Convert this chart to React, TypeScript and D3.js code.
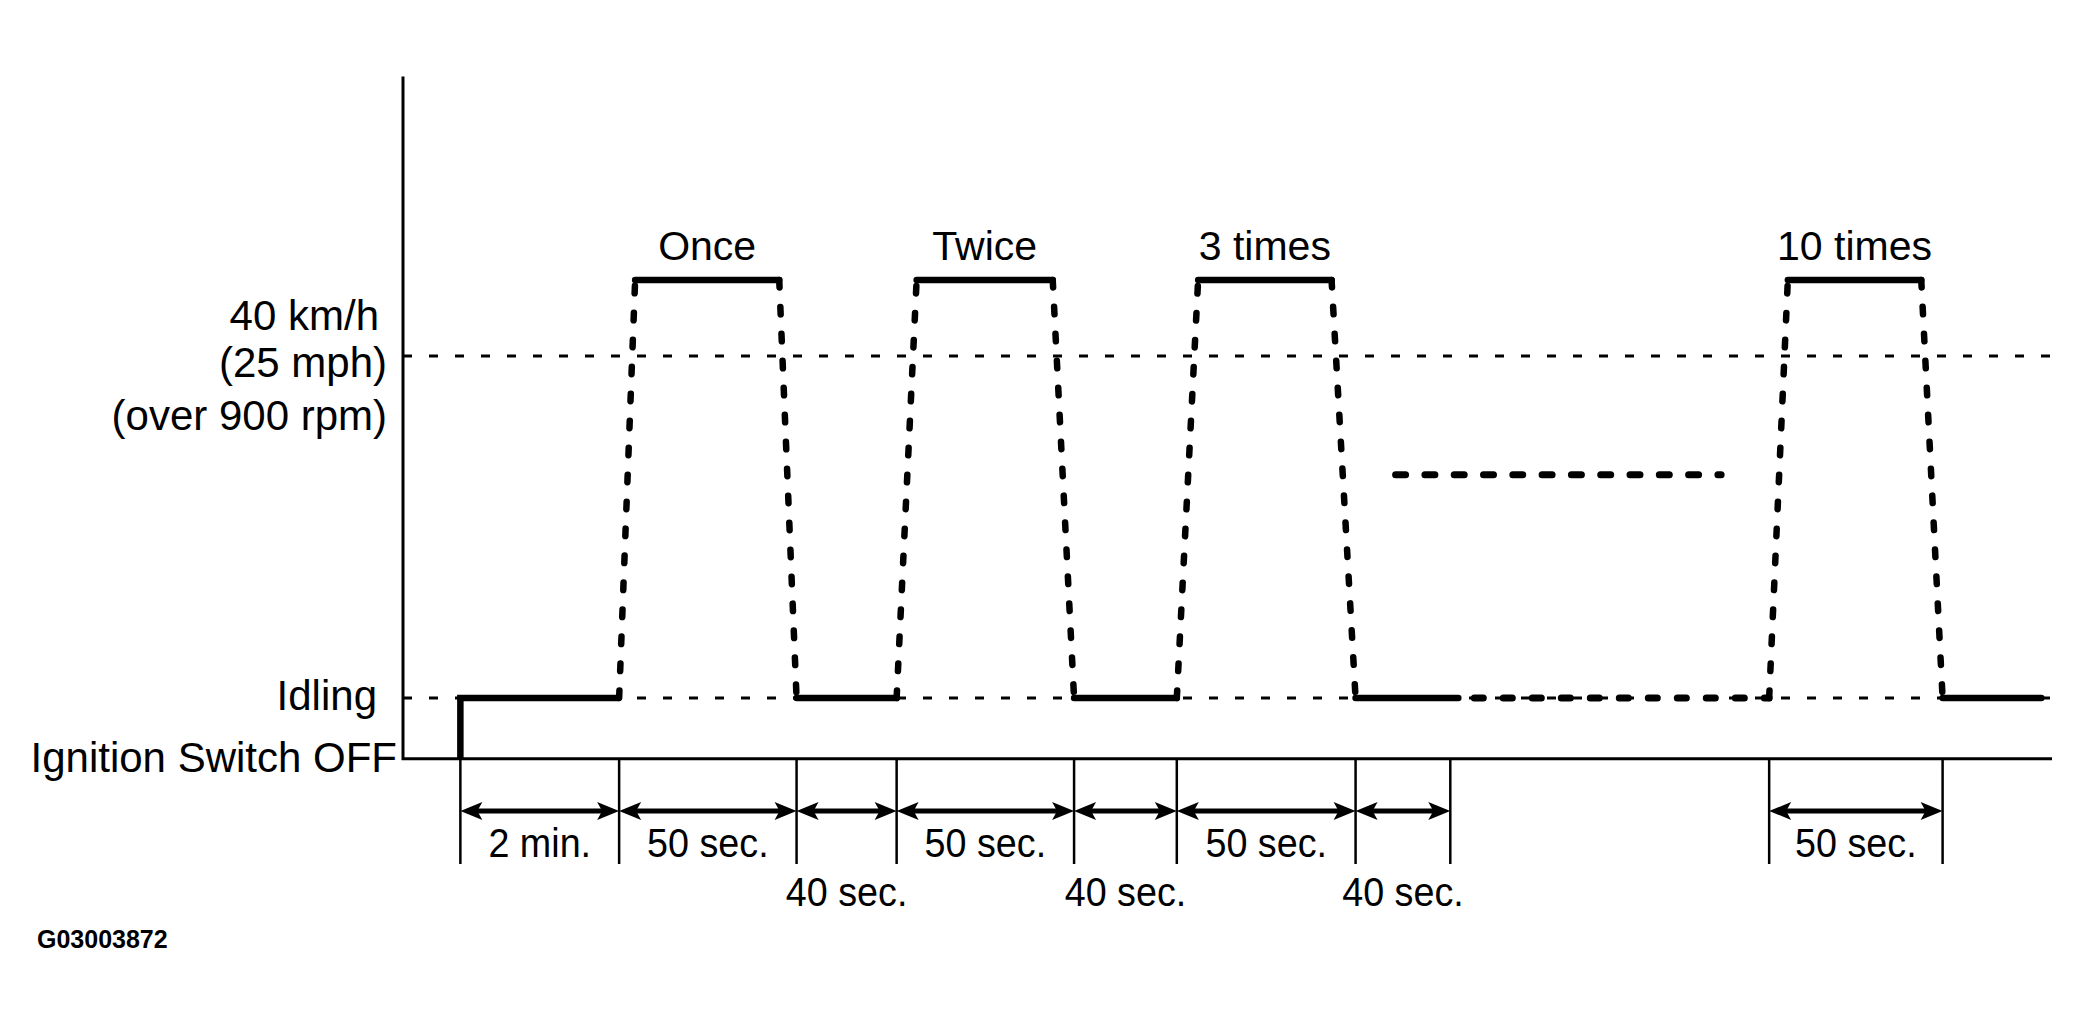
import React from "react";
import * as d3 from "d3";

const WIDTH = 2092;
const HEIGHT = 1024;

// Schematic timeline (layout units along the time axis; 0 = vertical axis)
const ignitionAt = 43;
const segmentLabels = ["2 min.", "50 sec.", "40 sec.", "50 sec.", "40 sec.", "50 sec.", "40 sec.", "", "50 sec."];
const segmentSpans = [119, 133, 75, 133, 77, 134, 71, 239, 130];
const segmentRows = [0, 0, 1, 0, 1, 0, 1, -1, 0];
const pulseLabels = ["Once", "Twice", "3 times", "10 times"];
const pulseSegments = [1, 3, 5, 8];
const pulseRise = [12, 15, 16, 14];
const pulseFall = [13, 16, 18, 16];
const idleSegments = [0, 2, 4, 6];
const idleOverrun = 6;
const finalIdleSpan = 74;
const axisEnd = 1236;
const refLineEnd = 1238;
const repeatDots = [744, 988];

// Speed levels (schematic, km/h)
const levelOff = -7.1;
const levelIdle = 0;
const levelTarget = 40;
const levelPeak = 48.9;
const levelRepeat = 26.1;
const levelAxisTop = 72.7;

const speedLabelLines = ["40 km/h", "(25 mph)", "(over 900 rpm)"];
const idleLabel = "Idling";
const offLabel = "Ignition Switch OFF";
const figureId = "G03003872";

const FONT = "'Liberation Sans', Arial, Helvetica, sans-serif";

export default function App() {
  const x = d3.scaleLinear().domain([0, axisEnd]).range([403, 2052]);
  const y = d3.scaleLinear().domain([0, 40]).range([698, 356]);

  const bounds: number[] = [ignitionAt];
  segmentSpans.forEach((s, i) => bounds.push(bounds[i] + s));

  const line = d3
    .line<[number, number]>()
    .x((d) => x(d[0]))
    .y((d) => y(d[1]));

  const yOff = y(levelOff);
  const dimY = 811;
  const tickBottom = 864;
  const rowBaselines = [857, 906];

  const idlePaths: [number, number][][] = idleSegments.map((s, i) => {
    const a = bounds[s];
    let b = bounds[s + 1];
    if (s === 6) b += idleOverrun;
    if (i === 0)
      return [
        [a, levelOff],
        [a, levelIdle],
        [b, levelIdle],
      ];
    return [
      [a, levelIdle],
      [b, levelIdle],
    ];
  });
  idlePaths.push([
    [bounds[9], levelIdle],
    [bounds[9] + finalIdleSpan, levelIdle],
  ]);

  const dottedIdle: [number, number][] = [
    [bounds[7] + idleOverrun, levelIdle],
    [bounds[8], levelIdle],
  ];

  const arrowHead = (tipX: number, dir: number) => {
    const L = 22;
    const h = 9;
    const n = 5;
    return `M${tipX},${dimY} L${tipX + dir * L},${dimY - h} L${tipX + dir * (L - n)},${dimY} L${tipX + dir * L},${dimY + h} Z`;
  };

  return (
    <svg
      width={WIDTH}
      height={HEIGHT}
      style={{ position: "absolute", left: 0, top: 0, background: "#fff" }}
      fontFamily={FONT}
    >
      <rect x={0} y={0} width={WIDTH} height={HEIGHT} fill="#fff" />

      {[levelTarget, levelIdle].map((lv, i) => (
        <line
          key={"ref" + i}
          x1={x(0)}
          x2={x(refLineEnd)}
          y1={y(lv)}
          y2={y(lv)}
          stroke="#000"
          strokeWidth={2.8}
          strokeDasharray="9,17"
        />
      ))}

      <path
        d={`M${x(0)},${y(levelAxisTop)} L${x(0)},${yOff} L${x(axisEnd)},${yOff}`}
        fill="none"
        stroke="#000"
        strokeWidth={3}
      />

      {idlePaths.map((p, i) => (
        <path
          key={"idle" + i}
          d={line(p) || ""}
          fill="none"
          stroke="#000"
          strokeWidth={6.5}
          strokeLinecap={i === 0 ? "butt" : "round"}
          strokeLinejoin="miter"
        />
      ))}

      <path
        d={line(dottedIdle) || ""}
        fill="none"
        stroke="#000"
        strokeWidth={7}
        strokeLinecap="round"
        strokeDasharray="9,20"
        strokeDashoffset={-16}
      />
      <path
        d={
          line([
            [repeatDots[0], levelRepeat],
            [repeatDots[1], levelRepeat],
          ]) || ""
        }
        fill="none"
        stroke="#000"
        strokeWidth={7}
        strokeLinecap="round"
        strokeDasharray="10,19.3"
      />

      {pulseSegments.map((s, i) => {
        const a = bounds[s];
        const b = bounds[s + 1];
        const ta = a + pulseRise[i];
        const tb = b - pulseFall[i];
        const rise = line([
          [a, levelIdle],
          [ta, levelPeak],
        ]);
        const fall = line([
          [tb, levelPeak],
          [b, levelIdle],
        ]);
        const top = line([
          [ta, levelPeak],
          [tb, levelPeak],
        ]);
        return (
          <g key={"pulse" + i}>
            <path d={rise || ""} fill="none" stroke="#000" strokeWidth={6.5} strokeLinecap="round" strokeDasharray="7.5,19.5" />
            <path d={fall || ""} fill="none" stroke="#000" strokeWidth={6.5} strokeLinecap="round" strokeDasharray="7.5,19.5" />
            <path d={top || ""} fill="none" stroke="#000" strokeWidth={6.5} strokeLinecap="round" />
            <text
              x={(x(ta) + x(tb)) / 2}
              y={260}
              textAnchor="middle"
              fontSize={41}
              fill="#000"
            >
              {pulseLabels[i]}
            </text>
          </g>
        );
      })}

      {bounds.map((b, i) => (
        <line
          key={"tick" + i}
          x1={x(b)}
          x2={x(b)}
          y1={yOff}
          y2={tickBottom}
          stroke="#000"
          strokeWidth={2.5}
        />
      ))}

      {segmentSpans.map((_, s) => {
        if (segmentRows[s] < 0) return null;
        const a = x(bounds[s]);
        const b = x(bounds[s + 1]);
        const cx = (a + b) / 2;
        return (
          <g key={"dim" + s}>
            <line x1={a + 10} x2={b - 10} y1={dimY} y2={dimY} stroke="#000" strokeWidth={5} />
            <path d={arrowHead(a, 1)} fill="#000" />
            <path d={arrowHead(b, -1)} fill="#000" />
            <text
              transform={`translate(${cx},${rowBaselines[segmentRows[s]]}) scale(0.92,1)`}
              textAnchor="middle"
              fontSize={41}
              fill="#000"
            >
              {segmentLabels[s]}
            </text>
          </g>
        );
      })}

      {speedLabelLines.map((t, i) => (
        <text
          key={"sl" + i}
          x={i === 0 ? 379 : 387}
          y={[330, 377, 430][i]}
          textAnchor="end"
          fontSize={42}
          fill="#000"
        >
          {t}
        </text>
      ))}
      <text x={377} y={y(levelIdle) + 12} textAnchor="end" fontSize={42} fill="#000">
        {idleLabel}
      </text>
      <text x={397} y={yOff + 13} textAnchor="end" fontSize={42} fill="#000">
        {offLabel}
      </text>

      <text x={37} y={948} fontSize={25} fontWeight="bold" fill="#000">
        {figureId}
      </text>
    </svg>
  );
}
